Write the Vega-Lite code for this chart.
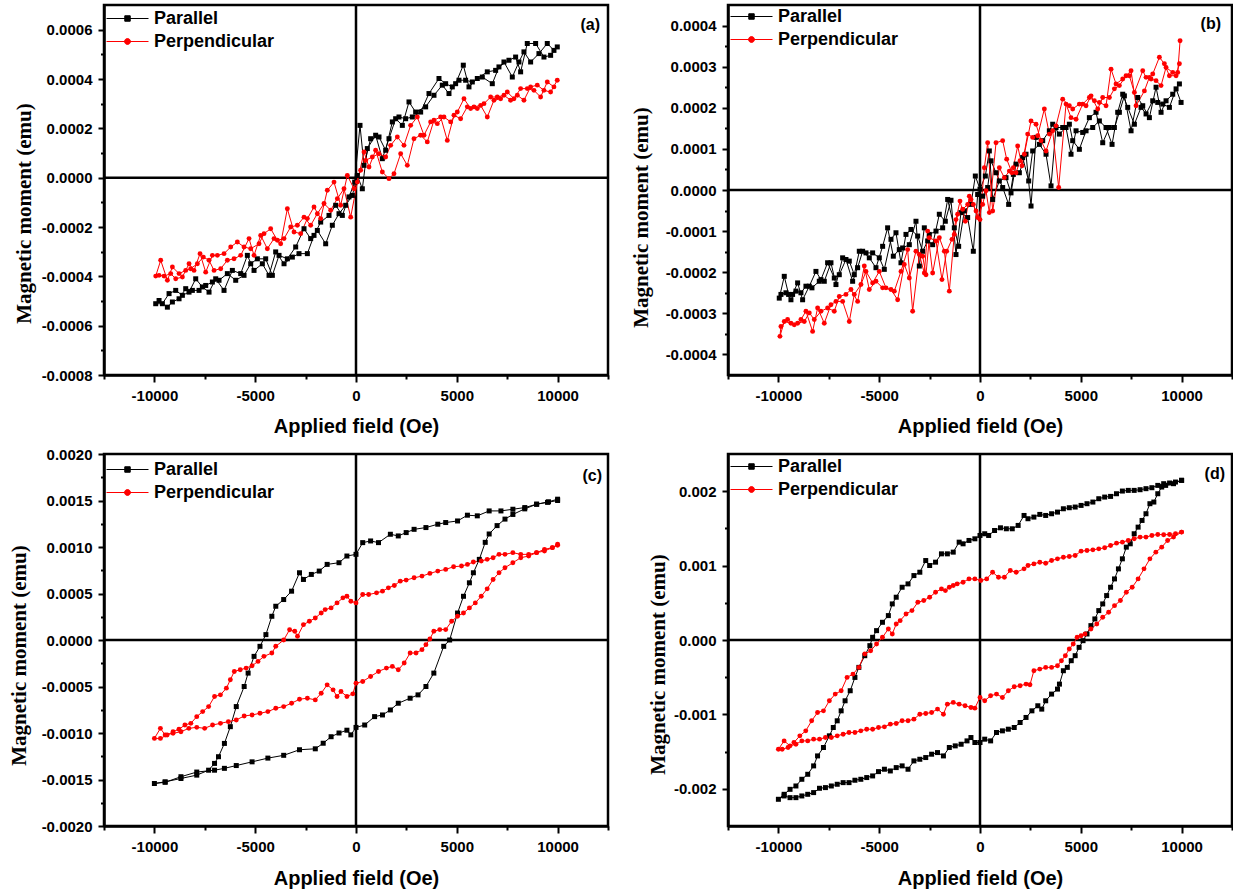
{
"$schema": "https://vega.github.io/schema/vega-lite/v6.json",
"background": "white",
"padding": {"left": 6, "top": 2, "right": 0, "bottom": 0},
"datasets": {
"a": [
{"s":"Parallel","x":9984,"y":0.00053},{"s":"Parallel","x":9654,"y":0.000496},{"s":"Parallel","x":9323,"y":0.000489},{"s":"Parallel","x":8910,"y":0.000544},{"s":"Parallel","x":8496,"y":0.000544},{"s":"Parallel","x":8166,"y":0.000429},{"s":"Parallel","x":7918,"y":0.000489},{"s":"Parallel","x":7587,"y":0.000476},{"s":"Parallel","x":7091,"y":0.000449},{"s":"Parallel","x":6761,"y":0.000381},{"s":"Parallel","x":6265,"y":0.000408},{"s":"Parallel","x":5769,"y":0.000388},{"s":"Parallel","x":5438,"y":0.000395},{"s":"Parallel","x":5108,"y":0.000395},{"s":"Parallel","x":4777,"y":0.000368},{"s":"Parallel","x":4447,"y":0.000381},{"s":"Parallel","x":4116,"y":0.000402},{"s":"Parallel","x":3620,"y":0.000341},{"s":"Parallel","x":3207,"y":0.000266},{"s":"Parallel","x":2794,"y":0.000246},{"s":"Parallel","x":2463,"y":0.000239},{"s":"Parallel","x":2132,"y":0.000246},{"s":"Parallel","x":1802,"y":0.000226},{"s":"Parallel","x":1471,"y":0.000111},{"s":"Parallel","x":1141,"y":0.000165},{"s":"Parallel","x":727,"y":0.000158},{"s":"Parallel","x":397,"y":0.00005},{"s":"Parallel","x":198,"y":0.000212},{"s":"Parallel","x":-66,"y":-0.000018},{"s":"Parallel","x":-347,"y":-0.000078},{"s":"Parallel","x":-678,"y":-0.000153},{"s":"Parallel","x":-1008,"y":-0.000112},{"s":"Parallel","x":-1339,"y":-0.000153},{"s":"Parallel","x":-1752,"y":-0.00018},{"s":"Parallel","x":-2083,"y":-0.000234},{"s":"Parallel","x":-2413,"y":-0.000308},{"s":"Parallel","x":-2827,"y":-0.000308},{"s":"Parallel","x":-3157,"y":-0.000322},{"s":"Parallel","x":-3570,"y":-0.000349},{"s":"Parallel","x":-3984,"y":-0.000301},{"s":"Parallel","x":-4314,"y":-0.000396},{"s":"Parallel","x":-4645,"y":-0.000349},{"s":"Parallel","x":-5058,"y":-0.000376},{"s":"Parallel","x":-5389,"y":-0.000315},{"s":"Parallel","x":-5719,"y":-0.000389},{"s":"Parallel","x":-6133,"y":-0.000376},{"s":"Parallel","x":-6546,"y":-0.000457},{"s":"Parallel","x":-6959,"y":-0.00041},{"s":"Parallel","x":-7290,"y":-0.000464},{"s":"Parallel","x":-7620,"y":-0.000443},{"s":"Parallel","x":-7951,"y":-0.00041},{"s":"Parallel","x":-8282,"y":-0.000464},{"s":"Parallel","x":-8612,"y":-0.000477},{"s":"Parallel","x":-8943,"y":-0.000457},{"s":"Parallel","x":-9273,"y":-0.00047},{"s":"Parallel","x":-9604,"y":-0.000511},{"s":"Parallel","x":-9935,"y":-0.000511},
{"s":"Parallel","x":-9769,"y":-0.000498},{"s":"Parallel","x":-9356,"y":-0.000525},{"s":"Parallel","x":-9108,"y":-0.000504},{"s":"Parallel","x":-8777,"y":-0.000491},{"s":"Parallel","x":-8447,"y":-0.00045},{"s":"Parallel","x":-8116,"y":-0.000457},{"s":"Parallel","x":-7786,"y":-0.000457},{"s":"Parallel","x":-7455,"y":-0.000437},{"s":"Parallel","x":-7124,"y":-0.000423},{"s":"Parallel","x":-6794,"y":-0.000416},{"s":"Parallel","x":-6381,"y":-0.000389},{"s":"Parallel","x":-5967,"y":-0.000416},{"s":"Parallel","x":-5554,"y":-0.000396},{"s":"Parallel","x":-5223,"y":-0.000349},{"s":"Parallel","x":-4893,"y":-0.000329},{"s":"Parallel","x":-4480,"y":-0.000329},{"s":"Parallel","x":-4149,"y":-0.000396},{"s":"Parallel","x":-3818,"y":-0.000315},{"s":"Parallel","x":-3405,"y":-0.000329},{"s":"Parallel","x":-2992,"y":-0.000281},{"s":"Parallel","x":-2579,"y":-0.000207},{"s":"Parallel","x":-2248,"y":-0.000247},{"s":"Parallel","x":-1917,"y":-0.000214},{"s":"Parallel","x":-1504,"y":-0.000268},{"s":"Parallel","x":-1174,"y":-0.000193},{"s":"Parallel","x":-843,"y":-0.000146},{"s":"Parallel","x":-512,"y":-0.000112},{"s":"Parallel","x":-182,"y":-0.000072},{"s":"Parallel","x":66,"y":0.000009},{"s":"Parallel","x":314,"y":-0.000045},{"s":"Parallel","x":562,"y":0.000118},{"s":"Parallel","x":975,"y":0.000172},{"s":"Parallel","x":1306,"y":0.000077},{"s":"Parallel","x":1636,"y":0.000158},{"s":"Parallel","x":1967,"y":0.000239},{"s":"Parallel","x":2298,"y":0.000212},{"s":"Parallel","x":2628,"y":0.000307},{"s":"Parallel","x":2959,"y":0.000266},{"s":"Parallel","x":3455,"y":0.000287},{"s":"Parallel","x":3868,"y":0.000334},{"s":"Parallel","x":4281,"y":0.000375},{"s":"Parallel","x":4612,"y":0.000341},{"s":"Parallel","x":4942,"y":0.000381},{"s":"Parallel","x":5323,"y":0.000456},{"s":"Parallel","x":5604,"y":0.000368},{"s":"Parallel","x":6017,"y":0.000402},{"s":"Parallel","x":6513,"y":0.000429},{"s":"Parallel","x":6926,"y":0.000435},{"s":"Parallel","x":7339,"y":0.000469},{"s":"Parallel","x":7753,"y":0.000408},{"s":"Parallel","x":8083,"y":0.000469},{"s":"Parallel","x":8331,"y":0.00051},{"s":"Parallel","x":8662,"y":0.000469},{"s":"Parallel","x":9075,"y":0.000503},{"s":"Parallel","x":9488,"y":0.000544},{"s":"Parallel","x":9819,"y":0.000516},
{"s":"Perpendicular","x":9984,"y":0.000395},{"s":"Perpendicular","x":9654,"y":0.000347},{"s":"Perpendicular","x":9323,"y":0.000354},{"s":"Perpendicular","x":8992,"y":0.000375},{"s":"Perpendicular","x":8662,"y":0.000368},{"s":"Perpendicular","x":8331,"y":0.000314},{"s":"Perpendicular","x":8001,"y":0.000334},{"s":"Perpendicular","x":7670,"y":0.000314},{"s":"Perpendicular","x":7339,"y":0.000334},{"s":"Perpendicular","x":7009,"y":0.000327},{"s":"Perpendicular","x":6678,"y":0.000327},{"s":"Perpendicular","x":6348,"y":0.0003},{"s":"Perpendicular","x":6017,"y":0.00028},{"s":"Perpendicular","x":5686,"y":0.00028},{"s":"Perpendicular","x":5356,"y":0.00032},{"s":"Perpendicular","x":5025,"y":0.000266},{"s":"Perpendicular","x":4695,"y":0.000226},{"s":"Perpendicular","x":4364,"y":0.000246},{"s":"Perpendicular","x":4033,"y":0.000219},{"s":"Perpendicular","x":3703,"y":0.000226},{"s":"Perpendicular","x":3372,"y":0.000172},{"s":"Perpendicular","x":3042,"y":0.000246},{"s":"Perpendicular","x":2711,"y":0.000212},{"s":"Perpendicular","x":2380,"y":0.000131},{"s":"Perpendicular","x":2050,"y":0.000165},{"s":"Perpendicular","x":1719,"y":0.000131},{"s":"Perpendicular","x":1471,"y":0.000084},{"s":"Perpendicular","x":1141,"y":0.000097},{"s":"Perpendicular","x":810,"y":0.000084},{"s":"Perpendicular","x":479,"y":0.00007},{"s":"Perpendicular","x":231,"y":0.00003},{"s":"Perpendicular","x":-99,"y":-0.000045},{"s":"Perpendicular","x":-430,"y":0.000009},{"s":"Perpendicular","x":-760,"y":-0.000112},{"s":"Perpendicular","x":-1091,"y":-0.000018},{"s":"Perpendicular","x":-1422,"y":-0.000051},{"s":"Perpendicular","x":-1752,"y":-0.000166},{"s":"Perpendicular","x":-2083,"y":-0.000119},{"s":"Perpendicular","x":-2413,"y":-0.000166},{"s":"Perpendicular","x":-2744,"y":-0.000227},{"s":"Perpendicular","x":-3075,"y":-0.00022},{"s":"Perpendicular","x":-3405,"y":-0.000126},{"s":"Perpendicular","x":-3736,"y":-0.000268},{"s":"Perpendicular","x":-4066,"y":-0.000247},{"s":"Perpendicular","x":-4397,"y":-0.000288},{"s":"Perpendicular","x":-4728,"y":-0.000234},{"s":"Perpendicular","x":-5058,"y":-0.000315},{"s":"Perpendicular","x":-5306,"y":-0.000247},{"s":"Perpendicular","x":-5719,"y":-0.000315},{"s":"Perpendicular","x":-6050,"y":-0.000329},{"s":"Perpendicular","x":-6381,"y":-0.000335},{"s":"Perpendicular","x":-6711,"y":-0.000369},{"s":"Perpendicular","x":-7042,"y":-0.000376},{"s":"Perpendicular","x":-7290,"y":-0.000335},{"s":"Perpendicular","x":-7571,"y":-0.000322},{"s":"Perpendicular","x":-7868,"y":-0.000349},{"s":"Perpendicular","x":-8199,"y":-0.000369},{"s":"Perpendicular","x":-8447,"y":-0.000376},{"s":"Perpendicular","x":-8777,"y":-0.000389},{"s":"Perpendicular","x":-9108,"y":-0.000362},{"s":"Perpendicular","x":-9356,"y":-0.000416},{"s":"Perpendicular","x":-9687,"y":-0.000335},{"s":"Perpendicular","x":-9935,"y":-0.000399},
{"s":"Perpendicular","x":-9769,"y":-0.000396},{"s":"Perpendicular","x":-9521,"y":-0.000399},{"s":"Perpendicular","x":-9191,"y":-0.000389},{"s":"Perpendicular","x":-8943,"y":-0.00041},{"s":"Perpendicular","x":-8612,"y":-0.000403},{"s":"Perpendicular","x":-8282,"y":-0.000349},{"s":"Perpendicular","x":-8034,"y":-0.000376},{"s":"Perpendicular","x":-7736,"y":-0.000308},{"s":"Perpendicular","x":-7455,"y":-0.000383},{"s":"Perpendicular","x":-7124,"y":-0.000315},{"s":"Perpendicular","x":-6877,"y":-0.000315},{"s":"Perpendicular","x":-6546,"y":-0.000308},{"s":"Perpendicular","x":-6215,"y":-0.000281},{"s":"Perpendicular","x":-5885,"y":-0.000261},{"s":"Perpendicular","x":-5554,"y":-0.000281},{"s":"Perpendicular","x":-5223,"y":-0.000288},{"s":"Perpendicular","x":-4810,"y":-0.000268},{"s":"Perpendicular","x":-4562,"y":-0.000227},{"s":"Perpendicular","x":-4232,"y":-0.000207},{"s":"Perpendicular","x":-3901,"y":-0.000254},{"s":"Perpendicular","x":-3570,"y":-0.000247},{"s":"Perpendicular","x":-3240,"y":-0.0002},{"s":"Perpendicular","x":-2909,"y":-0.000193},{"s":"Perpendicular","x":-2579,"y":-0.00016},{"s":"Perpendicular","x":-2248,"y":-0.000193},{"s":"Perpendicular","x":-1917,"y":-0.000146},{"s":"Perpendicular","x":-1587,"y":-0.000105},{"s":"Perpendicular","x":-1256,"y":-0.000132},{"s":"Perpendicular","x":-926,"y":-0.000085},{"s":"Perpendicular","x":-595,"y":-0.000045},{"s":"Perpendicular","x":-264,"y":-0.00016},{"s":"Perpendicular","x":66,"y":-0.000018},{"s":"Perpendicular","x":397,"y":0.000104},{"s":"Perpendicular","x":645,"y":0.000043},{"s":"Perpendicular","x":975,"y":0.000111},{"s":"Perpendicular","x":1306,"y":0.000023},{"s":"Perpendicular","x":1636,"y":-0.000004},{"s":"Perpendicular","x":1884,"y":0.000016},{"s":"Perpendicular","x":2215,"y":0.000097},{"s":"Perpendicular","x":2546,"y":0.00005},{"s":"Perpendicular","x":2876,"y":0.000158},{"s":"Perpendicular","x":3207,"y":0.000172},{"s":"Perpendicular","x":3537,"y":0.000145},{"s":"Perpendicular","x":3868,"y":0.000233},{"s":"Perpendicular","x":4199,"y":0.000246},{"s":"Perpendicular","x":4529,"y":0.000151},{"s":"Perpendicular","x":4860,"y":0.000253},{"s":"Perpendicular","x":5190,"y":0.000239},{"s":"Perpendicular","x":5521,"y":0.000287},{"s":"Perpendicular","x":5852,"y":0.000287},{"s":"Perpendicular","x":6182,"y":0.000293},{"s":"Perpendicular","x":6513,"y":0.000246},{"s":"Perpendicular","x":6843,"y":0.000314},{"s":"Perpendicular","x":7174,"y":0.00032},{"s":"Perpendicular","x":7505,"y":0.000347},{"s":"Perpendicular","x":7835,"y":0.00032},{"s":"Perpendicular","x":8166,"y":0.000361},{"s":"Perpendicular","x":8496,"y":0.000361},{"s":"Perpendicular","x":8827,"y":0.000354},{"s":"Perpendicular","x":9158,"y":0.000327},{"s":"Perpendicular","x":9488,"y":0.000388},{"s":"Perpendicular","x":9819,"y":0.000368}
],
"b": [
{"s":"Parallel","x":9974,"y":0.000213},{"s":"Parallel","x":9726,"y":0.000246},{"s":"Parallel","x":9395,"y":0.000201},{"s":"Parallel","x":9064,"y":0.000209},{"s":"Parallel","x":8816,"y":0.000213},{"s":"Parallel","x":8568,"y":0.000217},{"s":"Parallel","x":8237,"y":0.000185},{"s":"Parallel","x":7989,"y":0.000201},{"s":"Parallel","x":7658,"y":0.00016},{"s":"Parallel","x":7327,"y":0.000201},{"s":"Parallel","x":7079,"y":0.000233},{"s":"Parallel","x":6831,"y":0.000189},{"s":"Parallel","x":6550,"y":0.000111},{"s":"Parallel","x":6252,"y":0.000152},{"s":"Parallel","x":5921,"y":0.000168},{"s":"Parallel","x":5591,"y":0.000152},{"s":"Parallel","x":5260,"y":0.000144},{"s":"Parallel","x":4929,"y":0.000099},{"s":"Parallel","x":4598,"y":0.00012},{"s":"Parallel","x":4433,"y":0.00016},{"s":"Parallel","x":4102,"y":0.000152},{"s":"Parallel","x":3771,"y":0.000152},{"s":"Parallel","x":3523,"y":0.00001},{"s":"Parallel","x":3275,"y":0.000087},{"s":"Parallel","x":2944,"y":0.000111},{"s":"Parallel","x":2613,"y":0.000095},{"s":"Parallel","x":2415,"y":0.000022},{"s":"Parallel","x":2117,"y":0.000079},{"s":"Parallel","x":1786,"y":0.000063},{"s":"Parallel","x":1538,"y":-0.000007},{"s":"Parallel","x":1290,"y":0.00003},{"s":"Parallel","x":959,"y":0.000022},{"s":"Parallel","x":629,"y":-0.000023},{"s":"Parallel","x":463,"y":0.000095},{"s":"Parallel","x":265,"y":0.000034},{"s":"Parallel","x":0,"y":0.000002},{"s":"Parallel","x":-232,"y":0.000034},{"s":"Parallel","x":-447,"y":-0.000035},{"s":"Parallel","x":-777,"y":-0.000051},{"s":"Parallel","x":-1059,"y":-0.000137},{"s":"Parallel","x":-1274,"y":-0.000092},{"s":"Parallel","x":-1604,"y":-0.000023},{"s":"Parallel","x":-1852,"y":-0.000092},{"s":"Parallel","x":-2183,"y":-0.0001},{"s":"Parallel","x":-2514,"y":-0.000108},{"s":"Parallel","x":-2762,"y":-0.000092},{"s":"Parallel","x":-3010,"y":-0.000185},{"s":"Parallel","x":-3176,"y":-0.000076},{"s":"Parallel","x":-3506,"y":-0.000133},{"s":"Parallel","x":-3837,"y":-0.000141},{"s":"Parallel","x":-4003,"y":-0.000145},{"s":"Parallel","x":-4300,"y":-0.000161},{"s":"Parallel","x":-4582,"y":-0.000092},{"s":"Parallel","x":-4830,"y":-0.000137},{"s":"Parallel","x":-5160,"y":-0.000189},{"s":"Parallel","x":-5491,"y":-0.000165},{"s":"Parallel","x":-5822,"y":-0.000149},{"s":"Parallel","x":-6070,"y":-0.000189},{"s":"Parallel","x":-6318,"y":-0.000222},{"s":"Parallel","x":-6649,"y":-0.000169},{"s":"Parallel","x":-6980,"y":-0.000206},{"s":"Parallel","x":-7228,"y":-0.000214},{"s":"Parallel","x":-7559,"y":-0.000177},{"s":"Parallel","x":-7890,"y":-0.000218},{"s":"Parallel","x":-8138,"y":-0.000198},{"s":"Parallel","x":-8468,"y":-0.000234},{"s":"Parallel","x":-8799,"y":-0.000267},{"s":"Parallel","x":-9047,"y":-0.000226},{"s":"Parallel","x":-9296,"y":-0.000254},{"s":"Parallel","x":-9494,"y":-0.000254},{"s":"Parallel","x":-9709,"y":-0.00021},{"s":"Parallel","x":-9957,"y":-0.000263},
{"s":"Parallel","x":-9874,"y":-0.000254},{"s":"Parallel","x":-9626,"y":-0.00025},{"s":"Parallel","x":-9378,"y":-0.000267},{"s":"Parallel","x":-9130,"y":-0.000246},{"s":"Parallel","x":-8882,"y":-0.00025},{"s":"Parallel","x":-8634,"y":-0.000234},{"s":"Parallel","x":-8336,"y":-0.000238},{"s":"Parallel","x":-7972,"y":-0.000222},{"s":"Parallel","x":-7724,"y":-0.000222},{"s":"Parallel","x":-7393,"y":-0.000177},{"s":"Parallel","x":-7145,"y":-0.00023},{"s":"Parallel","x":-6814,"y":-0.000165},{"s":"Parallel","x":-6484,"y":-0.000173},{"s":"Parallel","x":-6236,"y":-0.000206},{"s":"Parallel","x":-5987,"y":-0.000149},{"s":"Parallel","x":-5657,"y":-0.000153},{"s":"Parallel","x":-5326,"y":-0.000153},{"s":"Parallel","x":-4995,"y":-0.000165},{"s":"Parallel","x":-4747,"y":-0.000193},{"s":"Parallel","x":-4416,"y":-0.00012},{"s":"Parallel","x":-4168,"y":-0.000104},{"s":"Parallel","x":-3920,"y":-0.000177},{"s":"Parallel","x":-3672,"y":-0.000108},{"s":"Parallel","x":-3424,"y":-0.000096},{"s":"Parallel","x":-3093,"y":-0.000112},{"s":"Parallel","x":-2845,"y":-0.000149},{"s":"Parallel","x":-2597,"y":-0.000124},{"s":"Parallel","x":-2349,"y":-0.000133},{"s":"Parallel","x":-2018,"y":-0.000059},{"s":"Parallel","x":-1720,"y":-0.000076},{"s":"Parallel","x":-1439,"y":-0.000025},{"s":"Parallel","x":-1191,"y":-0.000157},{"s":"Parallel","x":-943,"y":-0.000055},{"s":"Parallel","x":-612,"y":-0.000067},{"s":"Parallel","x":-331,"y":-0.000149},{"s":"Parallel","x":-116,"y":-0.000011},{"s":"Parallel","x":132,"y":-0.000015},{"s":"Parallel","x":380,"y":0.000006},{"s":"Parallel","x":546,"y":0.000071},{"s":"Parallel","x":794,"y":0.000042},{"s":"Parallel","x":1125,"y":0.000006},{"s":"Parallel","x":1422,"y":-0.000035},{"s":"Parallel","x":1654,"y":0.000038},{"s":"Parallel","x":1952,"y":0.000042},{"s":"Parallel","x":2283,"y":0.000087},{"s":"Parallel","x":2531,"y":-0.000039},{"s":"Parallel","x":2779,"y":0.000128},{"s":"Parallel","x":3110,"y":0.00012},{"s":"Parallel","x":3440,"y":0.000144},{"s":"Parallel","x":3606,"y":0.00016},{"s":"Parallel","x":3937,"y":0.000136},{"s":"Parallel","x":4267,"y":0.000152},{"s":"Parallel","x":4515,"y":0.000087},{"s":"Parallel","x":4764,"y":0.000144},{"s":"Parallel","x":5094,"y":0.00014},{"s":"Parallel","x":5425,"y":0.000176},{"s":"Parallel","x":5756,"y":0.000189},{"s":"Parallel","x":6087,"y":0.000115},{"s":"Parallel","x":6418,"y":0.000152},{"s":"Parallel","x":6666,"y":0.000152},{"s":"Parallel","x":6914,"y":0.000189},{"s":"Parallel","x":7162,"y":0.000229},{"s":"Parallel","x":7493,"y":0.000144},{"s":"Parallel","x":7823,"y":0.000225},{"s":"Parallel","x":8072,"y":0.000205},{"s":"Parallel","x":8402,"y":0.000176},{"s":"Parallel","x":8733,"y":0.00025},{"s":"Parallel","x":8981,"y":0.000189},{"s":"Parallel","x":9229,"y":0.000217},{"s":"Parallel","x":9560,"y":0.000233},{"s":"Parallel","x":9891,"y":0.000258},
{"s":"Perpendicular","x":9924,"y":0.000363},{"s":"Perpendicular","x":9808,"y":0.000286},{"s":"Perpendicular","x":9560,"y":0.000286},{"s":"Perpendicular","x":9229,"y":0.000298},{"s":"Perpendicular","x":8981,"y":0.000254},{"s":"Perpendicular","x":8733,"y":0.000266},{"s":"Perpendicular","x":8485,"y":0.00027},{"s":"Perpendicular","x":8237,"y":0.000274},{"s":"Perpendicular","x":8072,"y":0.00029},{"s":"Perpendicular","x":7658,"y":0.000237},{"s":"Perpendicular","x":7410,"y":0.000278},{"s":"Perpendicular","x":7079,"y":0.00027},{"s":"Perpendicular","x":6748,"y":0.000258},{"s":"Perpendicular","x":6500,"y":0.000294},{"s":"Perpendicular","x":6252,"y":0.000205},{"s":"Perpendicular","x":5921,"y":0.000213},{"s":"Perpendicular","x":5673,"y":0.000217},{"s":"Perpendicular","x":5425,"y":0.000225},{"s":"Perpendicular","x":5094,"y":0.000209},{"s":"Perpendicular","x":4764,"y":0.000172},{"s":"Perpendicular","x":4515,"y":0.000176},{"s":"Perpendicular","x":4267,"y":0.000209},{"s":"Perpendicular","x":3903,"y":0.000006},{"s":"Perpendicular","x":3606,"y":0.000144},{"s":"Perpendicular","x":3275,"y":0.000095},{"s":"Perpendicular","x":3027,"y":0.00012},{"s":"Perpendicular","x":2779,"y":0.00016},{"s":"Perpendicular","x":2531,"y":0.000168},{"s":"Perpendicular","x":2200,"y":0.000087},{"s":"Perpendicular","x":1985,"y":0.000071},{"s":"Perpendicular","x":1786,"y":0.000042},{"s":"Perpendicular","x":1588,"y":0.000042},{"s":"Perpendicular","x":1323,"y":0.000075},{"s":"Perpendicular","x":1125,"y":0.00012},{"s":"Perpendicular","x":794,"y":0.000115},{"s":"Perpendicular","x":463,"y":-0.000055},{"s":"Perpendicular","x":298,"y":-0.000002},{"s":"Perpendicular","x":132,"y":-0.000035},{"s":"Perpendicular","x":-116,"y":-0.000067},{"s":"Perpendicular","x":-331,"y":-0.000035},{"s":"Perpendicular","x":-529,"y":-0.000015},{"s":"Perpendicular","x":-728,"y":-0.000076},{"s":"Perpendicular","x":-992,"y":-0.000027},{"s":"Perpendicular","x":-1191,"y":-0.000072},{"s":"Perpendicular","x":-1389,"y":-0.00012},{"s":"Perpendicular","x":-1654,"y":-0.000149},{"s":"Perpendicular","x":-1886,"y":-0.000218},{"s":"Perpendicular","x":-2183,"y":-0.000124},{"s":"Perpendicular","x":-2514,"y":-0.000116},{"s":"Perpendicular","x":-2679,"y":-0.000206},{"s":"Perpendicular","x":-2845,"y":-0.000161},{"s":"Perpendicular","x":-3176,"y":-0.000149},{"s":"Perpendicular","x":-3506,"y":-0.000214},{"s":"Perpendicular","x":-3755,"y":-0.000181},{"s":"Perpendicular","x":-4085,"y":-0.000267},{"s":"Perpendicular","x":-4416,"y":-0.000242},{"s":"Perpendicular","x":-4830,"y":-0.000238},{"s":"Perpendicular","x":-5160,"y":-0.000222},{"s":"Perpendicular","x":-5491,"y":-0.000242},{"s":"Perpendicular","x":-5739,"y":-0.000185},{"s":"Perpendicular","x":-6070,"y":-0.000271},{"s":"Perpendicular","x":-6401,"y":-0.000242},{"s":"Perpendicular","x":-6649,"y":-0.000254},{"s":"Perpendicular","x":-6980,"y":-0.000259},{"s":"Perpendicular","x":-7228,"y":-0.000295},{"s":"Perpendicular","x":-7559,"y":-0.000287},{"s":"Perpendicular","x":-7890,"y":-0.000295},{"s":"Perpendicular","x":-8220,"y":-0.000315},{"s":"Perpendicular","x":-8468,"y":-0.000299},{"s":"Perpendicular","x":-8717,"y":-0.00032},{"s":"Perpendicular","x":-9047,"y":-0.000324},{"s":"Perpendicular","x":-9378,"y":-0.000324},{"s":"Perpendicular","x":-9709,"y":-0.00032},{"s":"Perpendicular","x":-9924,"y":-0.000356},
{"s":"Perpendicular","x":-9874,"y":-0.000332},{"s":"Perpendicular","x":-9544,"y":-0.000315},{"s":"Perpendicular","x":-9213,"y":-0.000328},{"s":"Perpendicular","x":-8882,"y":-0.000315},{"s":"Perpendicular","x":-8634,"y":-0.000295},{"s":"Perpendicular","x":-8303,"y":-0.000344},{"s":"Perpendicular","x":-8055,"y":-0.000287},{"s":"Perpendicular","x":-7724,"y":-0.000324},{"s":"Perpendicular","x":-7393,"y":-0.000279},{"s":"Perpendicular","x":-7145,"y":-0.000271},{"s":"Perpendicular","x":-6814,"y":-0.000271},{"s":"Perpendicular","x":-6484,"y":-0.00032},{"s":"Perpendicular","x":-6236,"y":-0.000254},{"s":"Perpendicular","x":-5905,"y":-0.00023},{"s":"Perpendicular","x":-5657,"y":-0.000198},{"s":"Perpendicular","x":-5326,"y":-0.000226},{"s":"Perpendicular","x":-4995,"y":-0.000198},{"s":"Perpendicular","x":-4664,"y":-0.000238},{"s":"Perpendicular","x":-4251,"y":-0.000246},{"s":"Perpendicular","x":-3920,"y":-0.000198},{"s":"Perpendicular","x":-3589,"y":-0.000145},{"s":"Perpendicular","x":-3341,"y":-0.000295},{"s":"Perpendicular","x":-3010,"y":-0.000157},{"s":"Perpendicular","x":-2762,"y":-0.000202},{"s":"Perpendicular","x":-2597,"y":-0.0001},{"s":"Perpendicular","x":-2349,"y":-0.000202},{"s":"Perpendicular","x":-2018,"y":-0.000116},{"s":"Perpendicular","x":-1770,"y":-0.000149},{"s":"Perpendicular","x":-1522,"y":-0.000246},{"s":"Perpendicular","x":-1274,"y":-0.000108},{"s":"Perpendicular","x":-1108,"y":-0.000059},{"s":"Perpendicular","x":-860,"y":-0.000047},{"s":"Perpendicular","x":-612,"y":-0.000035},{"s":"Perpendicular","x":-447,"y":-0.000023},{"s":"Perpendicular","x":-198,"y":-0.000051},{"s":"Perpendicular","x":0,"y":-0.000072},{"s":"Perpendicular","x":215,"y":0.000054},{"s":"Perpendicular","x":380,"y":0.000115},{"s":"Perpendicular","x":629,"y":-0.000051},{"s":"Perpendicular","x":959,"y":0.000054},{"s":"Perpendicular","x":1207,"y":0.00003},{"s":"Perpendicular","x":1456,"y":0.000046},{"s":"Perpendicular","x":1654,"y":0.000054},{"s":"Perpendicular","x":1869,"y":0.000107},{"s":"Perpendicular","x":2084,"y":0.000059},{"s":"Perpendicular","x":2365,"y":0.000136},{"s":"Perpendicular","x":2613,"y":0.000128},{"s":"Perpendicular","x":2861,"y":0.000132},{"s":"Perpendicular","x":3192,"y":0.000197},{"s":"Perpendicular","x":3440,"y":0.000136},{"s":"Perpendicular","x":3771,"y":0.000156},{"s":"Perpendicular","x":4102,"y":0.000221},{"s":"Perpendicular","x":4433,"y":0.000205},{"s":"Perpendicular","x":4598,"y":0.000197},{"s":"Perpendicular","x":4929,"y":0.000209},{"s":"Perpendicular","x":5260,"y":0.000205},{"s":"Perpendicular","x":5508,"y":0.000229},{"s":"Perpendicular","x":5839,"y":0.000197},{"s":"Perpendicular","x":6087,"y":0.000225},{"s":"Perpendicular","x":6418,"y":0.000225},{"s":"Perpendicular","x":6666,"y":0.000246},{"s":"Perpendicular","x":6914,"y":0.000254},{"s":"Perpendicular","x":7245,"y":0.000278},{"s":"Perpendicular","x":7493,"y":0.00029},{"s":"Perpendicular","x":7741,"y":0.000205},{"s":"Perpendicular","x":8154,"y":0.000241},{"s":"Perpendicular","x":8402,"y":0.000274},{"s":"Perpendicular","x":8568,"y":0.000282},{"s":"Perpendicular","x":8899,"y":0.000323},{"s":"Perpendicular","x":9146,"y":0.000307},{"s":"Perpendicular","x":9395,"y":0.000278},{"s":"Perpendicular","x":9726,"y":0.000278},{"s":"Perpendicular","x":9891,"y":0.000307}
],
"c": [
{"s":"Parallel","x":10000,"y":0.001514},{"s":"Parallel","x":9549,"y":0.001486},{"s":"Parallel","x":8961,"y":0.00146},{"s":"Parallel","x":8373,"y":0.001424},{"s":"Parallel","x":7782,"y":0.001406},{"s":"Parallel","x":7190,"y":0.001388},{"s":"Parallel","x":6605,"y":0.001388},{"s":"Parallel","x":6017,"y":0.001335},{"s":"Parallel","x":5527,"y":0.001342},{"s":"Parallel","x":5037,"y":0.00128},{"s":"Parallel","x":4449,"y":0.001263},{"s":"Parallel","x":4057,"y":0.001245},{"s":"Parallel","x":3469,"y":0.001209},{"s":"Parallel","x":2881,"y":0.00119},{"s":"Parallel","x":2489,"y":0.001155},{"s":"Parallel","x":2097,"y":0.001119},{"s":"Parallel","x":1705,"y":0.001137},{"s":"Parallel","x":1117,"y":0.001047},{"s":"Parallel","x":725,"y":0.001065},{"s":"Parallel","x":333,"y":0.001047},{"s":"Parallel","x":0,"y":0.000921},{"s":"Parallel","x":-451,"y":0.000903},{"s":"Parallel","x":-843,"y":0.000831},{"s":"Parallel","x":-1431,"y":0.000813},{"s":"Parallel","x":-1823,"y":0.000741},{"s":"Parallel","x":-2215,"y":0.000705},{"s":"Parallel","x":-2607,"y":0.000651},{"s":"Parallel","x":-2803,"y":0.000723},{"s":"Parallel","x":-3195,"y":0.000525},{"s":"Parallel","x":-3587,"y":0.000435},{"s":"Parallel","x":-3979,"y":0.000363},{"s":"Parallel","x":-4175,"y":0.000255},{"s":"Parallel","x":-4469,"y":0.000058},{"s":"Parallel","x":-4763,"y":-0.000068},{"s":"Parallel","x":-5057,"y":-0.000176},{"s":"Parallel","x":-5351,"y":-0.000356},{"s":"Parallel","x":-5547,"y":-0.0005},{"s":"Parallel","x":-5939,"y":-0.000716},{"s":"Parallel","x":-6233,"y":-0.000932},{"s":"Parallel","x":-6527,"y":-0.001112},{"s":"Parallel","x":-6821,"y":-0.001255},{"s":"Parallel","x":-7017,"y":-0.001327},{"s":"Parallel","x":-7311,"y":-0.0014},{"s":"Parallel","x":-7899,"y":-0.001453},{"s":"Parallel","x":-8683,"y":-0.001489},{"s":"Parallel","x":-9467,"y":-0.001525},{"s":"Parallel","x":-10000,"y":-0.001543},
{"s":"Parallel","x":-9467,"y":-0.00153},{"s":"Parallel","x":-8683,"y":-0.00147},{"s":"Parallel","x":-7899,"y":-0.00142},{"s":"Parallel","x":-7017,"y":-0.0014},{"s":"Parallel","x":-6527,"y":-0.00138},{"s":"Parallel","x":-5939,"y":-0.00135},{"s":"Parallel","x":-5155,"y":-0.00131},{"s":"Parallel","x":-4371,"y":-0.00127},{"s":"Parallel","x":-3587,"y":-0.00124},{"s":"Parallel","x":-2803,"y":-0.00118},{"s":"Parallel","x":-2019,"y":-0.00117},{"s":"Parallel","x":-1627,"y":-0.00111},{"s":"Parallel","x":-1235,"y":-0.00104},{"s":"Parallel","x":-843,"y":-0.001},{"s":"Parallel","x":-451,"y":-0.00097},{"s":"Parallel","x":-255,"y":-0.00102},{"s":"Parallel","x":0,"y":-0.00094},{"s":"Parallel","x":431,"y":-0.000914},{"s":"Parallel","x":922,"y":-0.000824},{"s":"Parallel","x":1313,"y":-0.000806},{"s":"Parallel","x":1705,"y":-0.000752},{"s":"Parallel","x":2097,"y":-0.00068},{"s":"Parallel","x":2685,"y":-0.000626},{"s":"Parallel","x":3077,"y":-0.00059},{"s":"Parallel","x":3469,"y":-0.0005},{"s":"Parallel","x":3861,"y":-0.000356},{"s":"Parallel","x":4351,"y":-0.000068},{"s":"Parallel","x":4645,"y":0.0},{"s":"Parallel","x":5037,"y":0.00029},{"s":"Parallel","x":5331,"y":0.00047},{"s":"Parallel","x":5625,"y":0.000615},{"s":"Parallel","x":5823,"y":0.000723},{"s":"Parallel","x":6117,"y":0.000867},{"s":"Parallel","x":6410,"y":0.00105},{"s":"Parallel","x":6606,"y":0.00114},{"s":"Parallel","x":6998,"y":0.00123},{"s":"Parallel","x":7390,"y":0.0013},{"s":"Parallel","x":7782,"y":0.00135},{"s":"Parallel","x":8370,"y":0.00141},{"s":"Parallel","x":8958,"y":0.00146},{"s":"Parallel","x":9500,"y":0.00148},{"s":"Parallel","x":10000,"y":0.0015},
{"s":"Perpendicular","x":10000,"y":0.001029},{"s":"Perpendicular","x":9741,"y":0.000993},{"s":"Perpendicular","x":9349,"y":0.000975},{"s":"Perpendicular","x":8957,"y":0.000939},{"s":"Perpendicular","x":8565,"y":0.000921},{"s":"Perpendicular","x":8173,"y":0.000921},{"s":"Perpendicular","x":7781,"y":0.000939},{"s":"Perpendicular","x":7389,"y":0.000921},{"s":"Perpendicular","x":7095,"y":0.000921},{"s":"Perpendicular","x":6801,"y":0.000885},{"s":"Perpendicular","x":6507,"y":0.000867},{"s":"Perpendicular","x":6213,"y":0.000849},{"s":"Perpendicular","x":5821,"y":0.000838},{"s":"Perpendicular","x":5527,"y":0.000813},{"s":"Perpendicular","x":5233,"y":0.000795},{"s":"Perpendicular","x":4841,"y":0.000788},{"s":"Perpendicular","x":4449,"y":0.000759},{"s":"Perpendicular","x":4057,"y":0.000741},{"s":"Perpendicular","x":3665,"y":0.000716},{"s":"Perpendicular","x":3273,"y":0.000687},{"s":"Perpendicular","x":2881,"y":0.000669},{"s":"Perpendicular","x":2489,"y":0.000644},{"s":"Perpendicular","x":2195,"y":0.000633},{"s":"Perpendicular","x":1901,"y":0.000586},{"s":"Perpendicular","x":1607,"y":0.000561},{"s":"Perpendicular","x":1313,"y":0.000525},{"s":"Perpendicular","x":1019,"y":0.000507},{"s":"Perpendicular","x":627,"y":0.000489},{"s":"Perpendicular","x":333,"y":0.000489},{"s":"Perpendicular","x":0,"y":0.000399},{"s":"Perpendicular","x":-255,"y":0.000417},{"s":"Perpendicular","x":-451,"y":0.000471},{"s":"Perpendicular","x":-647,"y":0.000453},{"s":"Perpendicular","x":-941,"y":0.000399},{"s":"Perpendicular","x":-1235,"y":0.000345},{"s":"Perpendicular","x":-1529,"y":0.000327},{"s":"Perpendicular","x":-1725,"y":0.000291},{"s":"Perpendicular","x":-2019,"y":0.000237},{"s":"Perpendicular","x":-2313,"y":0.000201},{"s":"Perpendicular","x":-2607,"y":0.000165},{"s":"Perpendicular","x":-2901,"y":0.00004},{"s":"Perpendicular","x":-3038,"y":0.000094},{"s":"Perpendicular","x":-3293,"y":0.000111},{"s":"Perpendicular","x":-3587,"y":0.0},{"s":"Perpendicular","x":-3979,"y":-0.000068},{"s":"Perpendicular","x":-4175,"y":-0.00014},{"s":"Perpendicular","x":-4567,"y":-0.000176},{"s":"Perpendicular","x":-4861,"y":-0.00023},{"s":"Perpendicular","x":-5155,"y":-0.000277},{"s":"Perpendicular","x":-5449,"y":-0.000302},{"s":"Perpendicular","x":-5743,"y":-0.00032},{"s":"Perpendicular","x":-6037,"y":-0.000338},{"s":"Perpendicular","x":-6233,"y":-0.000428},{"s":"Perpendicular","x":-6429,"y":-0.000518},{"s":"Perpendicular","x":-6723,"y":-0.00059},{"s":"Perpendicular","x":-7017,"y":-0.000608},{"s":"Perpendicular","x":-7311,"y":-0.000716},{"s":"Perpendicular","x":-7605,"y":-0.00077},{"s":"Perpendicular","x":-7899,"y":-0.000824},{"s":"Perpendicular","x":-8193,"y":-0.000896},{"s":"Perpendicular","x":-8487,"y":-0.000914},{"s":"Perpendicular","x":-8781,"y":-0.00096},{"s":"Perpendicular","x":-9075,"y":-0.000986},{"s":"Perpendicular","x":-9369,"y":-0.001022},{"s":"Perpendicular","x":-9702,"y":-0.001058},{"s":"Perpendicular","x":-10000,"y":-0.001058},
{"s":"Perpendicular","x":-9702,"y":-0.00095},{"s":"Perpendicular","x":-9467,"y":-0.001022},{"s":"Perpendicular","x":-9075,"y":-0.001004},{"s":"Perpendicular","x":-8683,"y":-0.000986},{"s":"Perpendicular","x":-8291,"y":-0.00095},{"s":"Perpendicular","x":-7899,"y":-0.000939},{"s":"Perpendicular","x":-7507,"y":-0.00095},{"s":"Perpendicular","x":-7115,"y":-0.000914},{"s":"Perpendicular","x":-6723,"y":-0.000896},{"s":"Perpendicular","x":-6331,"y":-0.000878},{"s":"Perpendicular","x":-5939,"y":-0.00086},{"s":"Perpendicular","x":-5547,"y":-0.000817},{"s":"Perpendicular","x":-5155,"y":-0.000806},{"s":"Perpendicular","x":-4763,"y":-0.000788},{"s":"Perpendicular","x":-4371,"y":-0.00077},{"s":"Perpendicular","x":-3979,"y":-0.000734},{"s":"Perpendicular","x":-3587,"y":-0.000716},{"s":"Perpendicular","x":-3195,"y":-0.00068},{"s":"Perpendicular","x":-2803,"y":-0.000637},{"s":"Perpendicular","x":-2411,"y":-0.000626},{"s":"Perpendicular","x":-2019,"y":-0.000644},{"s":"Perpendicular","x":-1725,"y":-0.000572},{"s":"Perpendicular","x":-1431,"y":-0.000482},{"s":"Perpendicular","x":-1137,"y":-0.000536},{"s":"Perpendicular","x":-941,"y":-0.000608},{"s":"Perpendicular","x":-745,"y":-0.000554},{"s":"Perpendicular","x":-451,"y":-0.000608},{"s":"Perpendicular","x":-157,"y":-0.000579},{"s":"Perpendicular","x":0,"y":-0.000464},{"s":"Perpendicular","x":333,"y":-0.000446},{"s":"Perpendicular","x":725,"y":-0.000392},{"s":"Perpendicular","x":1117,"y":-0.000338},{"s":"Perpendicular","x":1509,"y":-0.000302},{"s":"Perpendicular","x":1803,"y":-0.000284},{"s":"Perpendicular","x":2097,"y":-0.00032},{"s":"Perpendicular","x":2391,"y":-0.000248},{"s":"Perpendicular","x":2685,"y":-0.00014},{"s":"Perpendicular","x":2979,"y":-0.00014},{"s":"Perpendicular","x":3273,"y":-0.000104},{"s":"Perpendicular","x":3469,"y":-0.00005},{"s":"Perpendicular","x":3665,"y":0.000011},{"s":"Perpendicular","x":3861,"y":0.000094},{"s":"Perpendicular","x":4155,"y":0.000112},{"s":"Perpendicular","x":4449,"y":0.000112},{"s":"Perpendicular","x":4743,"y":0.000201},{"s":"Perpendicular","x":5037,"y":0.000255},{"s":"Perpendicular","x":5331,"y":0.000291},{"s":"Perpendicular","x":5625,"y":0.000345},{"s":"Perpendicular","x":5919,"y":0.000399},{"s":"Perpendicular","x":6213,"y":0.000471},{"s":"Perpendicular","x":6507,"y":0.00055},{"s":"Perpendicular","x":6801,"y":0.000651},{"s":"Perpendicular","x":7095,"y":0.000723},{"s":"Perpendicular","x":7389,"y":0.000777},{"s":"Perpendicular","x":7781,"y":0.000831},{"s":"Perpendicular","x":8173,"y":0.000885},{"s":"Perpendicular","x":8565,"y":0.000903},{"s":"Perpendicular","x":8957,"y":0.000939},{"s":"Perpendicular","x":9349,"y":0.000957},{"s":"Perpendicular","x":9741,"y":0.000993},{"s":"Perpendicular","x":10000,"y":0.001018}
],
"d": [
{"s":"Parallel","x":10000,"y":0.002146},{"s":"Parallel","x":9696,"y":0.002123},{"s":"Parallel","x":9404,"y":0.00211},{"s":"Parallel","x":9111,"y":0.002101},{"s":"Parallel","x":8819,"y":0.002078},{"s":"Parallel","x":8526,"y":0.002047},{"s":"Parallel","x":8233,"y":0.002034},{"s":"Parallel","x":7941,"y":0.00202},{"s":"Parallel","x":7648,"y":0.002011},{"s":"Parallel","x":7355,"y":0.002011},{"s":"Parallel","x":7063,"y":0.002002},{"s":"Parallel","x":6770,"y":0.001966},{"s":"Parallel","x":6477,"y":0.00193},{"s":"Parallel","x":6185,"y":0.001921},{"s":"Parallel","x":5892,"y":0.001899},{"s":"Parallel","x":5599,"y":0.001854},{"s":"Parallel","x":5307,"y":0.001832},{"s":"Parallel","x":5014,"y":0.001809},{"s":"Parallel","x":4721,"y":0.001787},{"s":"Parallel","x":4429,"y":0.001778},{"s":"Parallel","x":4136,"y":0.001764},{"s":"Parallel","x":3843,"y":0.001719},{"s":"Parallel","x":3551,"y":0.001697},{"s":"Parallel","x":3258,"y":0.001674},{"s":"Parallel","x":2966,"y":0.001688},{"s":"Parallel","x":2673,"y":0.001652},{"s":"Parallel","x":2380,"y":0.00163},{"s":"Parallel","x":2185,"y":0.001674},{"s":"Parallel","x":1892,"y":0.00154},{"s":"Parallel","x":1600,"y":0.001495},{"s":"Parallel","x":1307,"y":0.001495},{"s":"Parallel","x":1015,"y":0.001508},{"s":"Parallel","x":722,"y":0.001472},{"s":"Parallel","x":429,"y":0.001405},{"s":"Parallel","x":234,"y":0.001428},{"s":"Parallel","x":0,"y":0.001405},{"s":"Parallel","x":-254,"y":0.00136},{"s":"Parallel","x":-546,"y":0.001338},{"s":"Parallel","x":-839,"y":0.001293},{"s":"Parallel","x":-1034,"y":0.001315},{"s":"Parallel","x":-1327,"y":0.001181},{"s":"Parallel","x":-1619,"y":0.001158},{"s":"Parallel","x":-1912,"y":0.001158},{"s":"Parallel","x":-2205,"y":0.001046},{"s":"Parallel","x":-2497,"y":0.001001},{"s":"Parallel","x":-2692,"y":0.001068},{"s":"Parallel","x":-2985,"y":0.000911},{"s":"Parallel","x":-3278,"y":0.000866},{"s":"Parallel","x":-3570,"y":0.000754},{"s":"Parallel","x":-3863,"y":0.000709},{"s":"Parallel","x":-4156,"y":0.000575},{"s":"Parallel","x":-4351,"y":0.000485},{"s":"Parallel","x":-4546,"y":0.000328},{"s":"Parallel","x":-4838,"y":0.000238},{"s":"Parallel","x":-5131,"y":0.000126},{"s":"Parallel","x":-5326,"y":0.000036},{"s":"Parallel","x":-5463,"y":-0.000076},{"s":"Parallel","x":-5716,"y":-0.000211},{"s":"Parallel","x":-6009,"y":-0.000368},{"s":"Parallel","x":-6204,"y":-0.000503},{"s":"Parallel","x":-6438,"y":-0.000682},{"s":"Parallel","x":-6692,"y":-0.000817},{"s":"Parallel","x":-6887,"y":-0.000952},{"s":"Parallel","x":-7082,"y":-0.001086},{"s":"Parallel","x":-7277,"y":-0.001176},{"s":"Parallel","x":-7472,"y":-0.001288},{"s":"Parallel","x":-7765,"y":-0.001445},{"s":"Parallel","x":-8058,"y":-0.001558},{"s":"Parallel","x":-8253,"y":-0.001692},{"s":"Parallel","x":-8545,"y":-0.001805},{"s":"Parallel","x":-8838,"y":-0.001872},{"s":"Parallel","x":-9131,"y":-0.001962},{"s":"Parallel","x":-9423,"y":-0.002007},{"s":"Parallel","x":-9716,"y":-0.002074},{"s":"Parallel","x":-10000,"y":-0.002141},
{"s":"Parallel","x":-9716,"y":-0.002096},{"s":"Parallel","x":-9423,"y":-0.002119},{"s":"Parallel","x":-9131,"y":-0.002119},{"s":"Parallel","x":-8838,"y":-0.002096},{"s":"Parallel","x":-8545,"y":-0.002074},{"s":"Parallel","x":-8253,"y":-0.002051},{"s":"Parallel","x":-7960,"y":-0.001993},{"s":"Parallel","x":-7667,"y":-0.001984},{"s":"Parallel","x":-7375,"y":-0.001962},{"s":"Parallel","x":-7082,"y":-0.001939},{"s":"Parallel","x":-6789,"y":-0.001917},{"s":"Parallel","x":-6497,"y":-0.001917},{"s":"Parallel","x":-6204,"y":-0.001885},{"s":"Parallel","x":-5911,"y":-0.001872},{"s":"Parallel","x":-5619,"y":-0.001849},{"s":"Parallel","x":-5326,"y":-0.001827},{"s":"Parallel","x":-5034,"y":-0.001769},{"s":"Parallel","x":-4741,"y":-0.001737},{"s":"Parallel","x":-4448,"y":-0.00176},{"s":"Parallel","x":-4156,"y":-0.001715},{"s":"Parallel","x":-3863,"y":-0.001692},{"s":"Parallel","x":-3570,"y":-0.001737},{"s":"Parallel","x":-3278,"y":-0.001625},{"s":"Parallel","x":-2985,"y":-0.001603},{"s":"Parallel","x":-2692,"y":-0.00158},{"s":"Parallel","x":-2400,"y":-0.001535},{"s":"Parallel","x":-2107,"y":-0.001513},{"s":"Parallel","x":-1814,"y":-0.001558},{"s":"Parallel","x":-1522,"y":-0.001445},{"s":"Parallel","x":-1229,"y":-0.001423},{"s":"Parallel","x":-936,"y":-0.001401},{"s":"Parallel","x":-644,"y":-0.001356},{"s":"Parallel","x":-449,"y":-0.001311},{"s":"Parallel","x":-254,"y":-0.001378},{"s":"Parallel","x":0,"y":-0.001378},{"s":"Parallel","x":234,"y":-0.001333},{"s":"Parallel","x":527,"y":-0.001356},{"s":"Parallel","x":819,"y":-0.001243},{"s":"Parallel","x":1112,"y":-0.001221},{"s":"Parallel","x":1405,"y":-0.001199},{"s":"Parallel","x":1697,"y":-0.001176},{"s":"Parallel","x":1990,"y":-0.001109},{"s":"Parallel","x":2283,"y":-0.001041},{"s":"Parallel","x":2575,"y":-0.000952},{"s":"Parallel","x":2868,"y":-0.000884},{"s":"Parallel","x":3063,"y":-0.000929},{"s":"Parallel","x":3258,"y":-0.000817},{"s":"Parallel","x":3551,"y":-0.000727},{"s":"Parallel","x":3843,"y":-0.00066},{"s":"Parallel","x":3941,"y":-0.000593},{"s":"Parallel","x":4136,"y":-0.000413},{"s":"Parallel","x":4331,"y":-0.000368},{"s":"Parallel","x":4526,"y":-0.000278},{"s":"Parallel","x":4721,"y":-0.000211},{"s":"Parallel","x":4916,"y":-0.000099},{"s":"Parallel","x":5111,"y":-0.000009},{"s":"Parallel","x":5307,"y":0.000081},{"s":"Parallel","x":5502,"y":0.000193},{"s":"Parallel","x":5697,"y":0.000283},{"s":"Parallel","x":5892,"y":0.000395},{"s":"Parallel","x":6087,"y":0.000485},{"s":"Parallel","x":6282,"y":0.000597},{"s":"Parallel","x":6477,"y":0.000709},{"s":"Parallel","x":6672,"y":0.000821},{"s":"Parallel","x":6867,"y":0.000956},{"s":"Parallel","x":7063,"y":0.001091},{"s":"Parallel","x":7258,"y":0.001248},{"s":"Parallel","x":7453,"y":0.001293},{"s":"Parallel","x":7648,"y":0.001428},{"s":"Parallel","x":7843,"y":0.001517},{"s":"Parallel","x":8038,"y":0.001607},{"s":"Parallel","x":8233,"y":0.001697},{"s":"Parallel","x":8428,"y":0.001832},{"s":"Parallel","x":8623,"y":0.001854},{"s":"Parallel","x":8819,"y":0.001966},{"s":"Parallel","x":9014,"y":0.002056},{"s":"Parallel","x":9209,"y":0.002078},{"s":"Parallel","x":9599,"y":0.002101},{"s":"Parallel","x":10000,"y":0.002146},
{"s":"Perpendicular","x":10000,"y":0.00145},{"s":"Perpendicular","x":9696,"y":0.001428},{"s":"Perpendicular","x":9404,"y":0.001419},{"s":"Perpendicular","x":9111,"y":0.001414},{"s":"Perpendicular","x":8819,"y":0.001419},{"s":"Perpendicular","x":8526,"y":0.001405},{"s":"Perpendicular","x":8233,"y":0.001383},{"s":"Perpendicular","x":7941,"y":0.001383},{"s":"Perpendicular","x":7648,"y":0.00136},{"s":"Perpendicular","x":7355,"y":0.001338},{"s":"Perpendicular","x":7063,"y":0.001315},{"s":"Perpendicular","x":6770,"y":0.001302},{"s":"Perpendicular","x":6477,"y":0.00127},{"s":"Perpendicular","x":6185,"y":0.001239},{"s":"Perpendicular","x":5892,"y":0.001225},{"s":"Perpendicular","x":5599,"y":0.001212},{"s":"Perpendicular","x":5307,"y":0.001203},{"s":"Perpendicular","x":5014,"y":0.001194},{"s":"Perpendicular","x":4721,"y":0.001136},{"s":"Perpendicular","x":4429,"y":0.001122},{"s":"Perpendicular","x":4136,"y":0.001113},{"s":"Perpendicular","x":3843,"y":0.001091},{"s":"Perpendicular","x":3551,"y":0.001068},{"s":"Perpendicular","x":3258,"y":0.001032},{"s":"Perpendicular","x":2966,"y":0.001046},{"s":"Perpendicular","x":2673,"y":0.001023},{"s":"Perpendicular","x":2380,"y":0.001001},{"s":"Perpendicular","x":2185,"y":0.000956},{"s":"Perpendicular","x":1795,"y":0.000911},{"s":"Perpendicular","x":1502,"y":0.000934},{"s":"Perpendicular","x":1210,"y":0.000844},{"s":"Perpendicular","x":917,"y":0.000844},{"s":"Perpendicular","x":624,"y":0.000911},{"s":"Perpendicular","x":332,"y":0.000821},{"s":"Perpendicular","x":39,"y":0.000799},{"s":"Perpendicular","x":-254,"y":0.000821},{"s":"Perpendicular","x":-546,"y":0.000821},{"s":"Perpendicular","x":-839,"y":0.000777},{"s":"Perpendicular","x":-1132,"y":0.000754},{"s":"Perpendicular","x":-1327,"y":0.000732},{"s":"Perpendicular","x":-1522,"y":0.000709},{"s":"Perpendicular","x":-1717,"y":0.000664},{"s":"Perpendicular","x":-1912,"y":0.000687},{"s":"Perpendicular","x":-2205,"y":0.000642},{"s":"Perpendicular","x":-2497,"y":0.000575},{"s":"Perpendicular","x":-2790,"y":0.00053},{"s":"Perpendicular","x":-3083,"y":0.000507},{"s":"Perpendicular","x":-3375,"y":0.000395},{"s":"Perpendicular","x":-3668,"y":0.00035},{"s":"Perpendicular","x":-3961,"y":0.00026},{"s":"Perpendicular","x":-4156,"y":0.000215},{"s":"Perpendicular","x":-4351,"y":0.000081},{"s":"Perpendicular","x":-4546,"y":0.000148},{"s":"Perpendicular","x":-4838,"y":0.000036},{"s":"Perpendicular","x":-5131,"y":-0.000054},{"s":"Perpendicular","x":-5424,"y":-0.000144},{"s":"Perpendicular","x":-5716,"y":-0.000189},{"s":"Perpendicular","x":-6009,"y":-0.000368},{"s":"Perpendicular","x":-6302,"y":-0.000458},{"s":"Perpendicular","x":-6594,"y":-0.000503},{"s":"Perpendicular","x":-6887,"y":-0.000682},{"s":"Perpendicular","x":-7180,"y":-0.000727},{"s":"Perpendicular","x":-7472,"y":-0.000817},{"s":"Perpendicular","x":-7765,"y":-0.000952},{"s":"Perpendicular","x":-8058,"y":-0.000974},{"s":"Perpendicular","x":-8350,"y":-0.001086},{"s":"Perpendicular","x":-8643,"y":-0.001221},{"s":"Perpendicular","x":-8936,"y":-0.001288},{"s":"Perpendicular","x":-9228,"y":-0.001378},{"s":"Perpendicular","x":-9521,"y":-0.001445},{"s":"Perpendicular","x":-9814,"y":-0.001468},{"s":"Perpendicular","x":-10000,"y":-0.001468},
{"s":"Perpendicular","x":-9716,"y":-0.001356},{"s":"Perpendicular","x":-9423,"y":-0.001423},{"s":"Perpendicular","x":-9131,"y":-0.001401},{"s":"Perpendicular","x":-8838,"y":-0.001356},{"s":"Perpendicular","x":-8545,"y":-0.001356},{"s":"Perpendicular","x":-8253,"y":-0.001333},{"s":"Perpendicular","x":-7960,"y":-0.001333},{"s":"Perpendicular","x":-7667,"y":-0.001311},{"s":"Perpendicular","x":-7375,"y":-0.001311},{"s":"Perpendicular","x":-7082,"y":-0.001288},{"s":"Perpendicular","x":-6789,"y":-0.001266},{"s":"Perpendicular","x":-6497,"y":-0.001243},{"s":"Perpendicular","x":-6204,"y":-0.001243},{"s":"Perpendicular","x":-5911,"y":-0.001221},{"s":"Perpendicular","x":-5619,"y":-0.001199},{"s":"Perpendicular","x":-5326,"y":-0.001199},{"s":"Perpendicular","x":-5034,"y":-0.001176},{"s":"Perpendicular","x":-4741,"y":-0.001167},{"s":"Perpendicular","x":-4448,"y":-0.001131},{"s":"Perpendicular","x":-4156,"y":-0.001122},{"s":"Perpendicular","x":-3863,"y":-0.001086},{"s":"Perpendicular","x":-3570,"y":-0.001086},{"s":"Perpendicular","x":-3278,"y":-0.001064},{"s":"Perpendicular","x":-2985,"y":-0.000997},{"s":"Perpendicular","x":-2692,"y":-0.000988},{"s":"Perpendicular","x":-2400,"y":-0.000974},{"s":"Perpendicular","x":-2107,"y":-0.000929},{"s":"Perpendicular","x":-1814,"y":-0.000997},{"s":"Perpendicular","x":-1619,"y":-0.000862},{"s":"Perpendicular","x":-1327,"y":-0.000839},{"s":"Perpendicular","x":-1034,"y":-0.000862},{"s":"Perpendicular","x":-741,"y":-0.000884},{"s":"Perpendicular","x":-449,"y":-0.000907},{"s":"Perpendicular","x":-254,"y":-0.000916},{"s":"Perpendicular","x":0,"y":-0.000772},{"s":"Perpendicular","x":234,"y":-0.000817},{"s":"Perpendicular","x":527,"y":-0.00075},{"s":"Perpendicular","x":819,"y":-0.000727},{"s":"Perpendicular","x":1112,"y":-0.000772},{"s":"Perpendicular","x":1405,"y":-0.000682},{"s":"Perpendicular","x":1697,"y":-0.000628},{"s":"Perpendicular","x":1990,"y":-0.000615},{"s":"Perpendicular","x":2283,"y":-0.000593},{"s":"Perpendicular","x":2478,"y":-0.000602},{"s":"Perpendicular","x":2673,"y":-0.000413},{"s":"Perpendicular","x":2966,"y":-0.000391},{"s":"Perpendicular","x":3258,"y":-0.000368},{"s":"Perpendicular","x":3551,"y":-0.000368},{"s":"Perpendicular","x":3843,"y":-0.000346},{"s":"Perpendicular","x":4039,"y":-0.000278},{"s":"Perpendicular","x":4234,"y":-0.000211},{"s":"Perpendicular","x":4429,"y":-0.000121},{"s":"Perpendicular","x":4624,"y":-0.000054},{"s":"Perpendicular","x":4819,"y":0.000036},{"s":"Perpendicular","x":5014,"y":0.000058},{"s":"Perpendicular","x":5209,"y":0.000081},{"s":"Perpendicular","x":5502,"y":0.000148},{"s":"Perpendicular","x":5794,"y":0.000215},{"s":"Perpendicular","x":6087,"y":0.000305},{"s":"Perpendicular","x":6380,"y":0.000373},{"s":"Perpendicular","x":6672,"y":0.000462},{"s":"Perpendicular","x":6965,"y":0.00053},{"s":"Perpendicular","x":7258,"y":0.000642},{"s":"Perpendicular","x":7550,"y":0.000709},{"s":"Perpendicular","x":7843,"y":0.000821},{"s":"Perpendicular","x":8136,"y":0.000956},{"s":"Perpendicular","x":8428,"y":0.001091},{"s":"Perpendicular","x":8721,"y":0.001181},{"s":"Perpendicular","x":9014,"y":0.001248},{"s":"Perpendicular","x":9306,"y":0.001338},{"s":"Perpendicular","x":9599,"y":0.001383},{"s":"Perpendicular","x":10000,"y":0.00145}
]
},
"concat": [
{
"width": 504, "height": 370,
"data": {"name": "a"},
"resolve": {"axis": {"x": "independent", "y": "independent"}},
"layer": [
{"data": {"values": [{}]}, "mark": {"type": "rule", "color": "black", "strokeWidth": 2.5}, "encoding": {"x": {"datum": 0, "type": "quantitative", "axis": {"orient": "bottom", "values": [-12500,-7500,-2500,2500,7500,12500], "labels": false, "domain": false, "tickSize": 4, "title": null}}}},
{"data": {"values": [{}]}, "mark": {"type": "rule", "color": "black", "strokeWidth": 2.5}, "encoding": {"y": {"datum": 0, "type": "quantitative", "axis": {"orient": "left", "values": [-0.0007,-0.0005,-0.0003,-0.0001,0.0001,0.0003,0.0005], "labels": false, "domain": false, "tickSize": 3.5, "title": null}}}},
{"data": {"values": [{}]}, "mark": {"type": "text", "text": "(a)", "align": "right", "baseline": "middle", "dx": -8, "dy": 20, "font": "Liberation Sans", "fontSize": 16, "fontWeight": "bold", "color": "black"}, "encoding": {"x": {"datum": 12500, "type": "quantitative", "axis": null}, "y": {"datum": 0.0007, "type": "quantitative", "axis": null}}},
{"mark": {"type": "line", "strokeWidth": 1},
 "encoding": {
  "x": {"field": "x", "type": "quantitative", "scale": {"domain": [-12500, 12500], "nice": false, "zero": false},
   "axis": {"orient": "bottom", "values": [-10000,-5000,0,5000,10000], "tickSize": 7, "labelPadding": 6, "labelExpr": "'' + datum.value", "title": "Applied field (Oe)", "titleFont": "Liberation Sans", "titleFontSize": 20, "titleFontWeight": "bold", "titleY": 51, "titleBaseline": "middle"}},
  "y": {"field": "y", "type": "quantitative", "scale": {"domain": [-0.0008, 0.0007], "nice": false, "zero": false},
   "axis": {"orient": "left", "values": [-0.0008,-0.0006,-0.0004,-0.0002,0,0.0002,0.0004,0.0006], "tickSize": 6, "labelPadding": 6, "labelExpr": "replace(format(datum.value, '.4f'), '\u2212', '-')", "title": "Magnetic moment (emu)", "titleFont": "Liberation Serif", "titleFontSize": 21, "titleFontWeight": "bold", "titleX": -80, "titleY": 208, "titleAngle": 270, "titleAlign": "center", "titleBaseline": "middle"}},
  "color": {"field": "s", "type": "nominal", "scale": {"domain": ["Parallel", "Perpendicular"], "range": ["black", "red"]},
   "legend": {"title": null, "orient": "none", "legendX": 2, "legendY": 2, "padding": 0, "labelFont": "Liberation Sans", "labelFontSize": 18, "labelFontWeight": "bold", "labelColor": "black", "labelOffset": 5, "symbolSize": 1764, "symbolStrokeWidth": 1, "symbolType": "M-1,0H1", "clipHeight": 23, "rowPadding": 0,
    "encode": {"symbols": {"update": {"shape": {"signal": "datum.value == 'Parallel' ? 'M-1,0H1M-0.13,-0.13H0.13V0.13H-0.13Z' : 'M-1,0H1M0.14,0A0.14,0.14,0,1,1,-0.14,0A0.14,0.14,0,1,1,0.14,0Z'"}, "fill": {"signal": "datum.value == 'Parallel' ? 'black' : 'red'"}, "stroke": {"signal": "datum.value == 'Parallel' ? 'black' : 'red'"}, "opacity": {"value": 1}, "fillOpacity": {"value": 1}, "strokeOpacity": {"value": 1}}}}}},
  "order": {"value": null}
 }},
{"transform": [{"filter": "datum.s == 'Parallel'"}], "mark": {"type": "point", "shape": "square", "filled": true, "size": 25, "color": "black", "opacity": 1}, "encoding": {"x": {"field": "x", "type": "quantitative", "axis": null}, "y": {"field": "y", "type": "quantitative", "axis": null}}},
{"transform": [{"filter": "datum.s == 'Perpendicular'"}], "mark": {"type": "point", "shape": "circle", "filled": true, "size": 24, "color": "red", "opacity": 1}, "encoding": {"x": {"field": "x", "type": "quantitative", "axis": null}, "y": {"field": "y", "type": "quantitative", "axis": null}}}
]
},
{
"width": 504, "height": 370,
"data": {"name": "b"},
"resolve": {"axis": {"x": "independent", "y": "independent"}},
"layer": [
{"data": {"values": [{}]}, "mark": {"type": "rule", "color": "black", "strokeWidth": 2.5}, "encoding": {"x": {"datum": 0, "type": "quantitative", "axis": {"orient": "bottom", "values": [-12500,-7500,-2500,2500,7500,12500], "labels": false, "domain": false, "tickSize": 4, "title": null}}}},
{"data": {"values": [{}]}, "mark": {"type": "rule", "color": "black", "strokeWidth": 2.5}, "encoding": {"y": {"datum": 0, "type": "quantitative", "axis": {"orient": "left", "values": [-0.00035,-0.00025,-0.00015,-0.00005,0.00005,0.00015,0.00025,0.00035], "labels": false, "domain": false, "tickSize": 3.5, "title": null}}}},
{"data": {"values": [{}]}, "mark": {"type": "text", "text": "(b)", "align": "right", "baseline": "middle", "dx": -11, "dy": 19, "font": "Liberation Sans", "fontSize": 16, "fontWeight": "bold", "color": "black"}, "encoding": {"x": {"datum": 12500, "type": "quantitative", "axis": null}, "y": {"datum": 0.00045, "type": "quantitative", "axis": null}}},
{"mark": {"type": "line", "strokeWidth": 1},
 "encoding": {
  "x": {"field": "x", "type": "quantitative", "scale": {"domain": [-12500, 12500], "nice": false, "zero": false},
   "axis": {"orient": "bottom", "values": [-10000,-5000,0,5000,10000], "tickSize": 7, "labelPadding": 6, "labelExpr": "'' + datum.value", "title": "Applied field (Oe)", "titleFont": "Liberation Sans", "titleFontSize": 20, "titleFontWeight": "bold", "titleY": 51, "titleBaseline": "middle"}},
  "y": {"field": "y", "type": "quantitative", "scale": {"domain": [-0.00045, 0.00045], "nice": false, "zero": false},
   "axis": {"orient": "left", "values": [-0.0004,-0.0003,-0.0002,-0.0001,0,0.0001,0.0002,0.0003,0.0004], "tickSize": 6, "labelPadding": 6, "labelExpr": "replace(format(datum.value, '.4f'), '\u2212', '-')", "title": "Magnetic moment (emu)", "titleFont": "Liberation Serif", "titleFontSize": 21, "titleFontWeight": "bold", "titleX": -87, "titleY": 212, "titleAngle": 270, "titleAlign": "center", "titleBaseline": "middle"}},
  "color": {"field": "s", "type": "nominal", "scale": {"domain": ["Parallel", "Perpendicular"], "range": ["black", "red"]},
   "legend": {"title": null, "orient": "none", "legendX": 2, "legendY": 0, "padding": 0, "labelFont": "Liberation Sans", "labelFontSize": 18, "labelFontWeight": "bold", "labelColor": "black", "labelOffset": 5, "symbolSize": 1764, "symbolStrokeWidth": 1, "symbolType": "M-1,0H1", "clipHeight": 23, "rowPadding": 0,
    "encode": {"symbols": {"update": {"shape": {"signal": "datum.value == 'Parallel' ? 'M-1,0H1M-0.13,-0.13H0.13V0.13H-0.13Z' : 'M-1,0H1M0.14,0A0.14,0.14,0,1,1,-0.14,0A0.14,0.14,0,1,1,0.14,0Z'"}, "fill": {"signal": "datum.value == 'Parallel' ? 'black' : 'red'"}, "stroke": {"signal": "datum.value == 'Parallel' ? 'black' : 'red'"}, "opacity": {"value": 1}, "fillOpacity": {"value": 1}, "strokeOpacity": {"value": 1}}}}}},
  "order": {"value": null}
 }},
{"transform": [{"filter": "datum.s == 'Parallel'"}], "mark": {"type": "point", "shape": "square", "filled": true, "size": 25, "color": "black", "opacity": 1}, "encoding": {"x": {"field": "x", "type": "quantitative", "axis": null}, "y": {"field": "y", "type": "quantitative", "axis": null}}},
{"transform": [{"filter": "datum.s == 'Perpendicular'"}], "mark": {"type": "point", "shape": "circle", "filled": true, "size": 24, "color": "red", "opacity": 1}, "encoding": {"x": {"field": "x", "type": "quantitative", "axis": null}, "y": {"field": "y", "type": "quantitative", "axis": null}}}
]
},
{
"width": 504, "height": 372,
"data": {"name": "c"},
"resolve": {"axis": {"x": "independent", "y": "independent"}},
"layer": [
{"data": {"values": [{}]}, "mark": {"type": "rule", "color": "black", "strokeWidth": 2.5}, "encoding": {"x": {"datum": 0, "type": "quantitative", "axis": {"orient": "bottom", "values": [-12500,-7500,-2500,2500,7500,12500], "labels": false, "domain": false, "tickSize": 4, "title": null}}}},
{"data": {"values": [{}]}, "mark": {"type": "rule", "color": "black", "strokeWidth": 2.5}, "encoding": {"y": {"datum": 0, "type": "quantitative", "axis": {"orient": "left", "values": [-0.00175,-0.00125,-0.00075,-0.00025,0.00025,0.00075,0.00125,0.00175], "labels": false, "domain": false, "tickSize": 3.5, "title": null}}}},
{"data": {"values": [{}]}, "mark": {"type": "text", "text": "(c)", "align": "right", "baseline": "middle", "dx": -6, "dy": 22, "font": "Liberation Sans", "fontSize": 16, "fontWeight": "bold", "color": "black"}, "encoding": {"x": {"datum": 12500, "type": "quantitative", "axis": null}, "y": {"datum": 0.002, "type": "quantitative", "axis": null}}},
{"mark": {"type": "line", "strokeWidth": 1},
 "encoding": {
  "x": {"field": "x", "type": "quantitative", "scale": {"domain": [-12500, 12500], "nice": false, "zero": false},
   "axis": {"orient": "bottom", "values": [-10000,-5000,0,5000,10000], "tickSize": 7, "labelPadding": 6, "labelExpr": "'' + datum.value", "title": "Applied field (Oe)", "titleFont": "Liberation Sans", "titleFontSize": 20, "titleFontWeight": "bold", "titleY": 52, "titleBaseline": "middle"}},
  "y": {"field": "y", "type": "quantitative", "scale": {"domain": [-0.002, 0.002], "nice": false, "zero": false},
   "axis": {"orient": "left", "values": [-0.002,-0.0015,-0.001,-0.0005,0,0.0005,0.001,0.0015,0.002], "tickSize": 6, "labelPadding": 6, "labelExpr": "replace(format(datum.value, '.4f'), '\u2212', '-')", "title": "Magnetic moment (emu)", "titleFont": "Liberation Serif", "titleFontSize": 21, "titleFontWeight": "bold", "titleX": -85, "titleY": 201, "titleAngle": 270, "titleAlign": "center", "titleBaseline": "middle"}},
  "color": {"field": "s", "type": "nominal", "scale": {"domain": ["Parallel", "Perpendicular"], "range": ["black", "red"]},
   "legend": {"title": null, "orient": "none", "legendX": 2, "legendY": 4, "padding": 0, "labelFont": "Liberation Sans", "labelFontSize": 18, "labelFontWeight": "bold", "labelColor": "black", "labelOffset": 5, "symbolSize": 1764, "symbolStrokeWidth": 1, "symbolType": "M-1,0H1", "clipHeight": 23, "rowPadding": 0,
    "encode": {"symbols": {"update": {"shape": {"signal": "datum.value == 'Parallel' ? 'M-1,0H1M-0.13,-0.13H0.13V0.13H-0.13Z' : 'M-1,0H1M0.14,0A0.14,0.14,0,1,1,-0.14,0A0.14,0.14,0,1,1,0.14,0Z'"}, "fill": {"signal": "datum.value == 'Parallel' ? 'black' : 'red'"}, "stroke": {"signal": "datum.value == 'Parallel' ? 'black' : 'red'"}, "opacity": {"value": 1}, "fillOpacity": {"value": 1}, "strokeOpacity": {"value": 1}}}}}},
  "order": {"value": null}
 }},
{"transform": [{"filter": "datum.s == 'Parallel'"}], "mark": {"type": "point", "shape": "square", "filled": true, "size": 25, "color": "black", "opacity": 1}, "encoding": {"x": {"field": "x", "type": "quantitative", "axis": null}, "y": {"field": "y", "type": "quantitative", "axis": null}}},
{"transform": [{"filter": "datum.s == 'Perpendicular'"}], "mark": {"type": "point", "shape": "circle", "filled": true, "size": 24, "color": "red", "opacity": 1}, "encoding": {"x": {"field": "x", "type": "quantitative", "axis": null}, "y": {"field": "y", "type": "quantitative", "axis": null}}}
]
},
{
"width": 504, "height": 372,
"data": {"name": "d"},
"resolve": {"axis": {"x": "independent", "y": "independent"}},
"layer": [
{"data": {"values": [{}]}, "mark": {"type": "rule", "color": "black", "strokeWidth": 2.5}, "encoding": {"x": {"datum": 0, "type": "quantitative", "axis": {"orient": "bottom", "values": [-12500,-7500,-2500,2500,7500,12500], "labels": false, "domain": false, "tickSize": 4, "title": null}}}},
{"data": {"values": [{}]}, "mark": {"type": "rule", "color": "black", "strokeWidth": 2.5}, "encoding": {"y": {"datum": 0, "type": "quantitative", "axis": {"orient": "left", "values": [-0.0015,-0.0005,0.0005,0.0015], "labels": false, "domain": false, "tickSize": 3.5, "title": null}}}},
{"data": {"values": [{}]}, "mark": {"type": "text", "text": "(d)", "align": "right", "baseline": "middle", "dx": -7, "dy": 20, "font": "Liberation Sans", "fontSize": 16, "fontWeight": "bold", "color": "black"}, "encoding": {"x": {"datum": 12500, "type": "quantitative", "axis": null}, "y": {"datum": 0.0025, "type": "quantitative", "axis": null}}},
{"mark": {"type": "line", "strokeWidth": 1},
 "encoding": {
  "x": {"field": "x", "type": "quantitative", "scale": {"domain": [-12500, 12500], "nice": false, "zero": false},
   "axis": {"orient": "bottom", "values": [-10000,-5000,0,5000,10000], "tickSize": 7, "labelPadding": 6, "labelExpr": "'' + datum.value", "title": "Applied field (Oe)", "titleFont": "Liberation Sans", "titleFontSize": 20, "titleFontWeight": "bold", "titleY": 52, "titleBaseline": "middle"}},
  "y": {"field": "y", "type": "quantitative", "scale": {"domain": [-0.0025, 0.0025], "nice": false, "zero": false},
   "axis": {"orient": "left", "values": [-0.002,-0.001,0,0.001,0.002], "tickSize": 6, "labelPadding": 6, "labelExpr": "replace(format(datum.value, '.3f'), '\u2212', '-')", "title": "Magnetic moment (emu)", "titleFont": "Liberation Serif", "titleFontSize": 21, "titleFontWeight": "bold", "titleX": -70, "titleY": 210, "titleAngle": 270, "titleAlign": "center", "titleBaseline": "middle"}},
  "color": {"field": "s", "type": "nominal", "scale": {"domain": ["Parallel", "Perpendicular"], "range": ["black", "red"]},
   "legend": {"title": null, "orient": "none", "legendX": 2, "legendY": 1, "padding": 0, "labelFont": "Liberation Sans", "labelFontSize": 18, "labelFontWeight": "bold", "labelColor": "black", "labelOffset": 5, "symbolSize": 1764, "symbolStrokeWidth": 1, "symbolType": "M-1,0H1", "clipHeight": 23, "rowPadding": 0,
    "encode": {"symbols": {"update": {"shape": {"signal": "datum.value == 'Parallel' ? 'M-1,0H1M-0.13,-0.13H0.13V0.13H-0.13Z' : 'M-1,0H1M0.14,0A0.14,0.14,0,1,1,-0.14,0A0.14,0.14,0,1,1,0.14,0Z'"}, "fill": {"signal": "datum.value == 'Parallel' ? 'black' : 'red'"}, "stroke": {"signal": "datum.value == 'Parallel' ? 'black' : 'red'"}, "opacity": {"value": 1}, "fillOpacity": {"value": 1}, "strokeOpacity": {"value": 1}}}}}},
  "order": {"value": null}
 }},
{"transform": [{"filter": "datum.s == 'Parallel'"}], "mark": {"type": "point", "shape": "square", "filled": true, "size": 25, "color": "black", "opacity": 1}, "encoding": {"x": {"field": "x", "type": "quantitative", "axis": null}, "y": {"field": "y", "type": "quantitative", "axis": null}}},
{"transform": [{"filter": "datum.s == 'Perpendicular'"}], "mark": {"type": "point", "shape": "circle", "filled": true, "size": 24, "color": "red", "opacity": 1}, "encoding": {"x": {"field": "x", "type": "quantitative", "axis": null}, "y": {"field": "y", "type": "quantitative", "axis": null}}}
]
}
],
"columns": 2,
"spacing": {"row": 79, "column": 120},
"bounds": "flush",
"resolve": {"scale": {"color": "independent"}, "legend": {"color": "independent"}},
"config": {
"view": {"stroke": "black", "strokeWidth": 2.5},
"axis": {"domainColor": "black", "domainWidth": 2.5, "tickColor": "black", "tickWidth": 2, "labelFont": "Liberation Sans", "labelFontSize": 15, "labelFontWeight": "bold", "labelColor": "black", "titleColor": "black", "grid": false, "labelFlush": false, "labelOverlap": false, "labelBound": false}
}
}
